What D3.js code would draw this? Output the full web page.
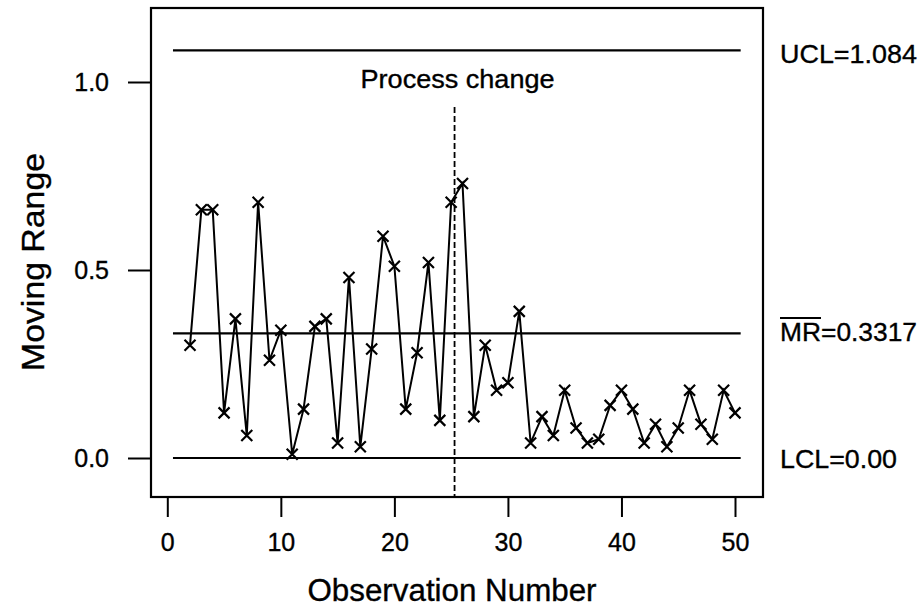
<!DOCTYPE html>
<html>
<head>
<meta charset="utf-8">
<script src="https://cdn.jsdelivr.net/npm/d3@7"></script>
<style>
  html, body { margin: 0; padding: 0; background: #fff; }
  svg { display: block; }
  text { font-family: "Liberation Sans", Arial, Helvetica, sans-serif; fill: #000; stroke: #000; stroke-width: 0.35px; }
</style>
</head>
<body>
<svg id="chart" width="923" height="609"></svg>
<script>
// ---- data ----
const observations = [2,3,4,5,6,7,8,9,10,11,12,13,14,15,16,17,18,19,20,21,22,23,24,25,26,
  27,28,29,30,31,32,33,34,35,36,37,38,39,40,41,42,43,44,45,46,47,48,49,50];
const movingRange = [0.30,0.66,0.66,0.12,0.37,0.06,0.68,0.26,0.34,0.01,0.13,0.35,0.37,0.04,0.48,
  0.03,0.29,0.59,0.51,0.13,0.28,0.52,0.10,0.68,0.73,
  0.11,0.30,0.18,0.20,0.39,0.04,0.11,0.06,0.18,0.08,0.04,0.05,0.14,0.18,0.13,
  0.04,0.09,0.03,0.08,0.18,0.09,0.05,0.18,0.12];
const xTicks = [0,10,20,30,40,50];
const yTicks = [0.0,0.5,1.0];
const limitNames = ["UCL","MR","LCL"];
const limitValues = [1.084,0.3317,0.0];
const limitLabels = ["UCL=1.084","MR=0.3317","LCL=0.00"];
const processChangeAt = [25.3];
const processChangeLabel = "Process change";
const xTitle = "Observation Number";
const yTitle = "Moving Range";

// ---- layout ----
const svg = d3.select("#chart");
const box = {left:151, right:763, top:8, bottom:497};
const x = d3.scaleLinear().domain([0,50]).range([167.3,735]);
const y = d3.scaleLinear().domain([0,1]).range([458,82]);
const data = observations.map((o,i)=>({x:o, y:movingRange[i]}));

// axes
const yAxis = d3.axisLeft(y).tickValues(yTicks).tickFormat(d3.format(".1f")).tickSize(23).tickPadding(19);
const gy = svg.append("g").attr("transform",`translate(${box.left},0)`).call(yAxis);
const xAxis = d3.axisBottom(x).tickValues(xTicks).tickFormat(d3.format("d")).tickSize(20).tickPadding(16);
const gx = svg.append("g").attr("transform",`translate(0,${box.bottom})`).call(xAxis);
[gx,gy].forEach(g=>{
  g.select(".domain").remove();
  g.selectAll(".tick line").attr("stroke","#000").attr("stroke-width",2);
  g.selectAll(".tick text").style("font-size","25px").attr("fill","#000");
});

// frame
svg.append("rect").attr("x",box.left).attr("y",box.top)
  .attr("width",box.right-box.left).attr("height",box.bottom-box.top)
  .attr("fill","none").attr("stroke","#000").attr("stroke-width",2.2);

// limit lines
svg.selectAll("line.limit").data(limitValues).join("line").attr("class","limit")
  .attr("x1",x(0.5)).attr("x2",x(50.5))
  .attr("y1",d=>y(d)).attr("y2",d=>y(d))
  .attr("stroke","#000").attr("stroke-width",2.2);

// process change dashed line
svg.selectAll("line.pc").data(processChangeAt).join("line").attr("class","pc")
  .attr("x1",d=>x(d)).attr("x2",d=>x(d))
  .attr("y1",107).attr("y2",box.bottom)
  .attr("stroke","#000").attr("stroke-width",1.8).attr("stroke-dasharray","6,3");
svg.append("text").attr("x",x(processChangeAt[0])+3).attr("y",88)
  .attr("text-anchor","middle").style("font-size","25px")
  .attr("textLength",194).attr("lengthAdjust","spacingAndGlyphs")
  .text(processChangeLabel);

// series line
svg.append("path").datum(data)
  .attr("d", d3.line().x(d=>x(d.x)).y(d=>y(d.y)))
  .attr("fill","none").attr("stroke","#000").attr("stroke-width",2);

// x markers
const m = 5.5;
svg.selectAll("path.mk").data(data).join("path").attr("class","mk")
  .attr("d", d=>{
    const cx=x(d.x), cy=y(d.y);
    return `M${cx-m},${cy-m}L${cx+m},${cy+m}M${cx-m},${cy+m}L${cx+m},${cy-m}`;
  })
  .attr("stroke","#000").attr("stroke-width",2.2).attr("fill","none");

// limit labels on the right
const labelBaselines = [63, 341, 468];
const labelWidths = [137, 137, 117];
limitLabels.forEach((lab,i)=>{
  const t = svg.append("text").attr("x",780).attr("y",labelBaselines[i])
    .style("font-size","26px")
    .attr("textLength",labelWidths[i]).attr("lengthAdjust","spacingAndGlyphs")
    .text(lab);
  if (limitNames[i]==="MR") {
    const w = t.node().getSubStringLength(0,2);
    svg.append("line").attr("x1",780).attr("x2",780+w)
      .attr("y1",labelBaselines[i]-23).attr("y2",labelBaselines[i]-23)
      .attr("stroke","#000").attr("stroke-width",1.8);
  }
});

// axis titles
svg.append("text").attr("x",452).attr("y",601).attr("text-anchor","middle")
  .style("font-size","31px").attr("textLength",289).attr("lengthAdjust","spacingAndGlyphs")
  .text(xTitle);
svg.append("text").attr("transform","translate(44,262) rotate(-90)").attr("text-anchor","middle")
  .style("font-size","31px").attr("textLength",218).attr("lengthAdjust","spacingAndGlyphs")
  .text(yTitle);
</script>
</body>
</html>
